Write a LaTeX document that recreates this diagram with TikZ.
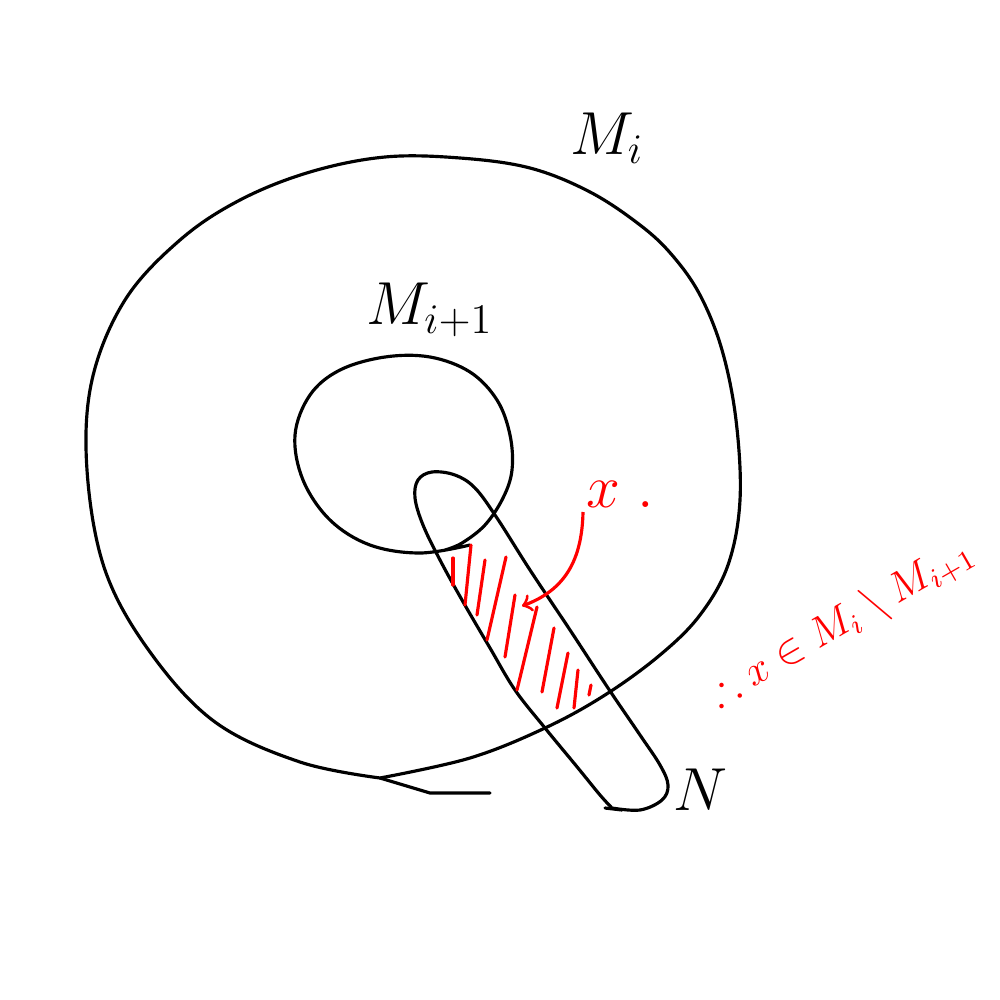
\documentclass[tikz,border=0pt]{standalone}
\usepackage{amsmath,amssymb}
\usepackage{tikz}
\newdimen\unitsize
\setlength{\unitsize}{0.01cm}

\begin{document}
\begin{tikzpicture}[x=\unitsize,y=-\unitsize]
\tikzset{curve/.style={line width=0.9pt, line cap=round, line join=round}}%
\tikzset{hatch/.style={red, line width=0.9pt, line cap=round}}%
\tikzset{lab/.style={font=\LARGE, inner sep=0pt}}%
\useasboundingbox (0,0) rectangle (1000,1000);
% outer set M_i
\draw[curve] plot[smooth, tension=0.6] coordinates {(380,778) (300,762) (215,722) (150,652) (105,570) (87,470) (92,380) (125,300) (180,240) (240,200) (310,172) (385,157) (460,158) (530,168) (590,192) (640,225) (672,255) (700,295) (722,350) (736,420) (740,500) (728,565) (700,615) (660,655) (605,695) (545,728) (470,758) (380,778)};
\draw[curve] (380,778) -- (430,793) -- (490,793);
% inner set M_{i+1}
\draw[curve] plot[smooth, tension=0.6] coordinates {(470,545) (420,553) (370,545) (330,520) (303,480) (295,435) (310,395) (340,370) (385,357) (430,357) (470,372) (497,400) (510,435) (512,470) (503,498) (485,525) (462,543) (445,550)};
% neighbourhood N
\draw[curve] plot[smooth, tension=0.6] coordinates {(612,808) (640,810) (662,800) (668,785) (660,765) (640,735) (608,688) (570,630) (530,570) (497,518) (475,488) (455,475) (432,472) (418,480) (415,498) (423,525) (440,560) (462,600) (490,648) (515,690) (545,728) (578,768) (600,795) (612,808)};
\draw[curve] (605,808) -- (622,810);
% hatching
\draw[hatch] (453,558) -- (453,585);
\draw[hatch] (471,545) -- (465,605);
\draw[hatch] (485,560) -- (477,615);
\draw[hatch] (506,557) -- (487,640);
\draw[hatch] (515,595) -- (505,657);
\draw[hatch] (537,607) -- (517,690);
\draw[hatch] (554,628) -- (542,692);
\draw[hatch] (568,653) -- (557,708);
\draw[hatch] (578,670) -- (574,708);
\draw[hatch] (591,685) -- (589,695);
% labels
\node[lab] (mi) at (607,138) {$M_i$};
\node[lab] (mii) at (430,310) {$M_{i+1}$};
\node[lab] (n) at (700,790) {$N$};
\node[lab, red] (xlab) at (620,494) {$x\;.$};
\node[lab, red, font=\large, rotate=30] (concl) at (842,624) {$\therefore x\in M_i\setminus M_{i+1}$};
\coordinate (xstart) at (583,512);
\coordinate (xpt) at (522,606);
\draw[red, line width=0.9pt, ->] (xstart) .. controls (582,560) and (565,590) .. (xpt);
\end{tikzpicture}
\end{document}
